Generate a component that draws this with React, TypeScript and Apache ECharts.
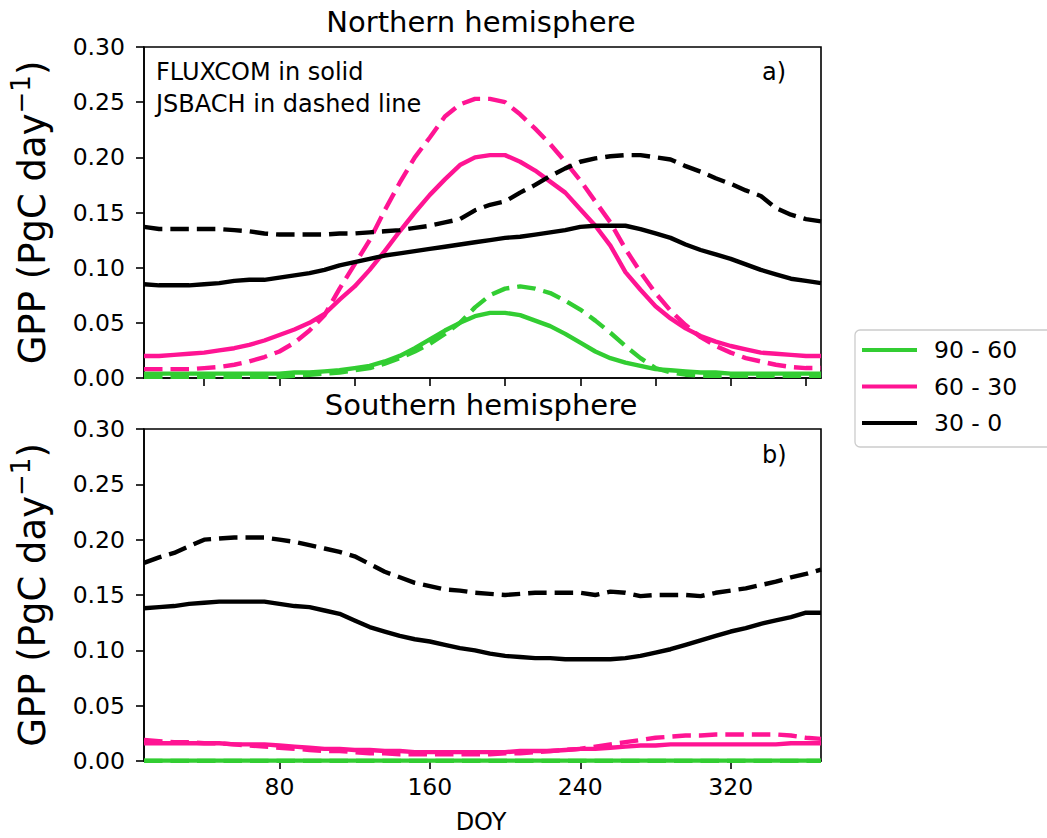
import React, { useEffect, useRef } from "react";
import * as echarts from "echarts";

// Day of year (8-day composites)
const DOY = [8, 16, 24, 32, 40, 48, 56, 64, 72, 80, 88, 96, 104, 112, 120, 128, 136, 144, 152, 160, 168, 176, 184, 192, 200, 208, 216, 224, 232, 240, 248, 256, 264, 272, 280, 288, 296, 304, 312, 320, 328, 336, 344, 352, 360, 368];

const X_TICKS_TOP = [40, 80, 120, 160, 200, 240, 280, 320, 360];
const X_TICKS_BOTTOM = [80, 160, 240, 320];
const LEGEND_NAMES = ["90 - 60", "60 - 30", "30 - 0"];

// Northern hemisphere
const N_GREEN_FLUX = [0.004, 0.004, 0.004, 0.004, 0.004, 0.004, 0.004, 0.004, 0.004, 0.004, 0.005, 0.005, 0.006, 0.007, 0.009, 0.011, 0.015, 0.020, 0.027, 0.035, 0.043, 0.050, 0.056, 0.059, 0.059, 0.057, 0.052, 0.047, 0.040, 0.032, 0.024, 0.018, 0.014, 0.011, 0.008, 0.007, 0.006, 0.005, 0.005, 0.004, 0.004, 0.004, 0.004, 0.004, 0.004, 0.004];
const N_GREEN_JSB = [0.001, 0.001, 0.001, 0.001, 0.001, 0.001, 0.001, 0.001, 0.001, 0.001, 0.002, 0.003, 0.004, 0.005, 0.007, 0.009, 0.013, 0.018, 0.024, 0.031, 0.040, 0.050, 0.064, 0.075, 0.081, 0.083, 0.081, 0.077, 0.070, 0.062, 0.052, 0.041, 0.029, 0.018, 0.009, 0.005, 0.003, 0.002, 0.002, 0.002, 0.002, 0.002, 0.002, 0.002, 0.002, 0.002];
const N_PINK_FLUX = [0.020, 0.020, 0.021, 0.022, 0.023, 0.025, 0.027, 0.030, 0.034, 0.039, 0.044, 0.050, 0.058, 0.071, 0.083, 0.098, 0.115, 0.133, 0.150, 0.166, 0.180, 0.193, 0.200, 0.202, 0.202, 0.196, 0.188, 0.178, 0.168, 0.153, 0.138, 0.120, 0.096, 0.080, 0.065, 0.054, 0.045, 0.038, 0.033, 0.029, 0.026, 0.023, 0.022, 0.021, 0.020, 0.020];
const N_PINK_JSB = [0.008, 0.008, 0.008, 0.008, 0.009, 0.010, 0.012, 0.015, 0.019, 0.024, 0.032, 0.043, 0.057, 0.081, 0.103, 0.125, 0.152, 0.177, 0.200, 0.218, 0.237, 0.248, 0.253, 0.253, 0.250, 0.239, 0.226, 0.212, 0.196, 0.179, 0.160, 0.141, 0.117, 0.096, 0.077, 0.061, 0.048, 0.037, 0.029, 0.023, 0.018, 0.015, 0.012, 0.010, 0.009, 0.009];
const N_BLACK_FLUX = [0.085, 0.084, 0.084, 0.084, 0.085, 0.086, 0.088, 0.089, 0.089, 0.091, 0.093, 0.095, 0.098, 0.102, 0.105, 0.108, 0.111, 0.113, 0.115, 0.117, 0.119, 0.121, 0.123, 0.125, 0.127, 0.128, 0.130, 0.132, 0.134, 0.137, 0.138, 0.138, 0.138, 0.135, 0.131, 0.127, 0.121, 0.116, 0.112, 0.108, 0.103, 0.098, 0.094, 0.090, 0.088, 0.086];
const N_BLACK_JSB = [0.137, 0.135, 0.135, 0.135, 0.135, 0.135, 0.134, 0.133, 0.131, 0.130, 0.130, 0.130, 0.130, 0.131, 0.131, 0.132, 0.133, 0.134, 0.136, 0.138, 0.141, 0.144, 0.152, 0.157, 0.160, 0.168, 0.175, 0.183, 0.190, 0.196, 0.199, 0.201, 0.202, 0.202, 0.200, 0.198, 0.192, 0.187, 0.181, 0.176, 0.170, 0.165, 0.154, 0.148, 0.144, 0.142];

// Southern hemisphere
const S_GREEN_FLUX = [0.0003, 0.0003, 0.0003, 0.0003, 0.0003, 0.0003, 0.0003, 0.0003, 0.0003, 0.0003, 0.0003, 0.0003, 0.0003, 0.0003, 0.0003, 0.0003, 0.0003, 0.0003, 0.0003, 0.0003, 0.0003, 0.0003, 0.0003, 0.0003, 0.0003, 0.0003, 0.0003, 0.0003, 0.0003, 0.0003, 0.0003, 0.0003, 0.0003, 0.0003, 0.0003, 0.0003, 0.0003, 0.0003, 0.0003, 0.0003, 0.0003, 0.0003, 0.0003, 0.0003, 0.0003, 0.0003];
const S_GREEN_JSB = [0.0001, 0.0001, 0.0001, 0.0001, 0.0001, 0.0001, 0.0001, 0.0001, 0.0001, 0.0001, 0.0001, 0.0001, 0.0001, 0.0001, 0.0001, 0.0001, 0.0001, 0.0001, 0.0001, 0.0001, 0.0001, 0.0001, 0.0001, 0.0001, 0.0001, 0.0001, 0.0001, 0.0001, 0.0001, 0.0001, 0.0001, 0.0001, 0.0001, 0.0001, 0.0001, 0.0001, 0.0001, 0.0001, 0.0001, 0.0001, 0.0001, 0.0001, 0.0001, 0.0001, 0.0001, 0.0001];
const S_PINK_FLUX = [0.016, 0.016, 0.016, 0.016, 0.016, 0.016, 0.015, 0.015, 0.015, 0.014, 0.013, 0.012, 0.011, 0.011, 0.010, 0.010, 0.009, 0.009, 0.008, 0.008, 0.008, 0.008, 0.008, 0.008, 0.008, 0.009, 0.009, 0.009, 0.010, 0.011, 0.011, 0.012, 0.013, 0.014, 0.014, 0.015, 0.015, 0.015, 0.015, 0.015, 0.015, 0.015, 0.015, 0.016, 0.016, 0.016];
const S_PINK_JSB = [0.019, 0.018, 0.017, 0.017, 0.016, 0.016, 0.015, 0.014, 0.013, 0.012, 0.011, 0.010, 0.009, 0.009, 0.008, 0.007, 0.007, 0.006, 0.006, 0.006, 0.006, 0.006, 0.006, 0.006, 0.007, 0.007, 0.008, 0.009, 0.010, 0.011, 0.013, 0.015, 0.017, 0.019, 0.021, 0.022, 0.023, 0.023, 0.024, 0.024, 0.024, 0.024, 0.024, 0.023, 0.021, 0.020];
const S_BLACK_FLUX = [0.138, 0.139, 0.140, 0.142, 0.143, 0.144, 0.144, 0.144, 0.144, 0.142, 0.140, 0.139, 0.136, 0.133, 0.127, 0.121, 0.117, 0.113, 0.110, 0.108, 0.105, 0.102, 0.100, 0.097, 0.095, 0.094, 0.093, 0.093, 0.092, 0.092, 0.092, 0.092, 0.093, 0.095, 0.098, 0.101, 0.105, 0.109, 0.113, 0.117, 0.120, 0.124, 0.127, 0.130, 0.134, 0.134];
const S_BLACK_JSB = [0.179, 0.184, 0.188, 0.194, 0.200, 0.201, 0.202, 0.202, 0.202, 0.200, 0.198, 0.195, 0.192, 0.189, 0.185, 0.178, 0.171, 0.166, 0.161, 0.158, 0.155, 0.154, 0.152, 0.151, 0.150, 0.151, 0.152, 0.152, 0.152, 0.152, 0.150, 0.153, 0.152, 0.149, 0.150, 0.150, 0.150, 0.149, 0.152, 0.154, 0.156, 0.159, 0.162, 0.166, 0.169, 0.173];

const GREEN = "#32CD32";
const PINK = "#FF1493";
const BLACK = "#000000";
const FONT = "DejaVu Sans";

function mkLine(name: string, vals: number[], color: string, dashed: boolean, gi: number) {
  return {
    type: "line",
    name,
    xAxisIndex: gi,
    yAxisIndex: gi,
    data: DOY.map((d, i) => [d, vals[i]]),
    symbol: "none",
    showSymbol: false,
    clip: true,
    lineStyle: { color, width: 4.4, type: dashed ? [18.5, 8] : "solid", cap: "butt", join: "round" },
    itemStyle: { color },
    emphasis: { disabled: true },
  };
}

function mkX(gi: number, bottom: boolean) {
  const ticks = bottom ? X_TICKS_BOTTOM : X_TICKS_TOP;
  return {
    type: "value",
    gridIndex: gi,
    min: 8,
    max: 368,
    axisLine: { show: true, onZero: false, lineStyle: { color: "#000", width: 1.6 } },
    axisTick: { show: true, length: 8, customValues: ticks, lineStyle: { color: "#000", width: 1.6 } },
    axisLabel: {
      show: bottom,
      customValues: ticks,
      fontSize: 23.5,
      fontFamily: FONT,
      color: "#000",
      margin: 14,
    },
    splitLine: { show: false },
  };
}

function mkY(gi: number) {
  return {
    type: "value",
    gridIndex: gi,
    min: 0,
    max: 0.3,
    interval: 0.05,
    axisLine: { show: true, lineStyle: { color: "#000", width: 1.6 } },
    axisTick: { show: true, length: 8, lineStyle: { color: "#000", width: 1.6 } },
    axisLabel: {
      fontSize: 23.5,
      fontFamily: FONT,
      color: "#000",
      margin: 19,
      formatter: (v: number) => v.toFixed(2),
    },
    splitLine: { show: false },
    name: "{a|GPP (PgC day}{s|\u22121}{a|)}",
    nameLocation: "middle",
    nameRotate: 90,
    nameGap: 87,
    nameTextStyle: {
      fontFamily: FONT,
      color: "#000",
      fontSize: 37,
      rich: {
        a: { fontFamily: FONT, fontSize: 37, color: "#000" },
        s: { fontFamily: FONT, fontSize: 26, color: "#000", padding: [0, 0, 23, 0] },
      },
    },
  };
}

function txt(text: string, x: number, y: number, size: number, align: string) {
  return {
    type: "text",
    x,
    y,
    silent: true,
    style: {
      text,
      fill: "#000",
      fontSize: size,
      fontFamily: FONT,
      textAlign: align,
      textVerticalAlign: "middle",
    },
  };
}

export default function App() {
  const ref = useRef<HTMLDivElement>(null);
  useEffect(() => {
    const chart = echarts.init(ref.current as HTMLDivElement, null, { renderer: "svg" });
    const option: any = {
      animation: false,
      backgroundColor: "#ffffff",
      grid: [
        { left: 141, top: 47, width: 680, height: 331, show: true, borderColor: "#000", borderWidth: 1.6, containLabel: false },
        { left: 141, top: 429, width: 680, height: 332, show: true, borderColor: "#000", borderWidth: 1.6, containLabel: false },
      ],
      xAxis: [mkX(0, false), mkX(1, true)],
      yAxis: [mkY(0), mkY(1)],
      legend: {
        data: LEGEND_NAMES,
        orient: "vertical",
        left: 855,
        top: 330,
        icon: "rect",
        itemWidth: 55,
        itemHeight: 4,
        itemGap: 12.5,
        padding: [8, 40, 12, 7],
        borderColor: "#cccccc",
        borderWidth: 1.3,
        borderRadius: 5,
        backgroundColor: "#ffffff",
        selectedMode: false,
        itemStyle: { borderWidth: 0 },
        textStyle: { fontSize: 23.5, fontFamily: FONT, color: "#000", padding: [0, 0, 0, 12] },
      },
      graphic: [
        txt("Northern hemisphere", 481, 22, 29, "center"),
        txt("Southern hemisphere", 481, 405, 29, "center"),
        txt("FLUXCOM in solid", 156, 72, 24, "left"),
        txt("JSBACH in dashed line", 156, 104, 24, "left"),
        txt("a)", 762, 72, 24, "left"),
        txt("b)", 762, 455, 24, "left"),
        txt("DOY", 481, 822, 24, "center"),
      ],
      series: [
        mkLine(LEGEND_NAMES[0], N_GREEN_FLUX, GREEN, false, 0),
        mkLine(LEGEND_NAMES[0], N_GREEN_JSB, GREEN, true, 0),
        mkLine(LEGEND_NAMES[1], N_PINK_FLUX, PINK, false, 0),
        mkLine(LEGEND_NAMES[1], N_PINK_JSB, PINK, true, 0),
        mkLine(LEGEND_NAMES[2], N_BLACK_FLUX, BLACK, false, 0),
        mkLine(LEGEND_NAMES[2], N_BLACK_JSB, BLACK, true, 0),
        mkLine(LEGEND_NAMES[0], S_GREEN_FLUX, GREEN, false, 1),
        mkLine(LEGEND_NAMES[0], S_GREEN_JSB, GREEN, true, 1),
        mkLine(LEGEND_NAMES[1], S_PINK_FLUX, PINK, false, 1),
        mkLine(LEGEND_NAMES[1], S_PINK_JSB, PINK, true, 1),
        mkLine(LEGEND_NAMES[2], S_BLACK_FLUX, BLACK, false, 1),
        mkLine(LEGEND_NAMES[2], S_BLACK_JSB, BLACK, true, 1),
      ],
    };
    chart.setOption(option);
    return () => chart.dispose();
  }, []);
  return (
    <div
      ref={ref}
      style={{ position: "fixed", left: 0, top: 0, width: 1047, height: 838, background: "#fff" }}
    />
  );
}
